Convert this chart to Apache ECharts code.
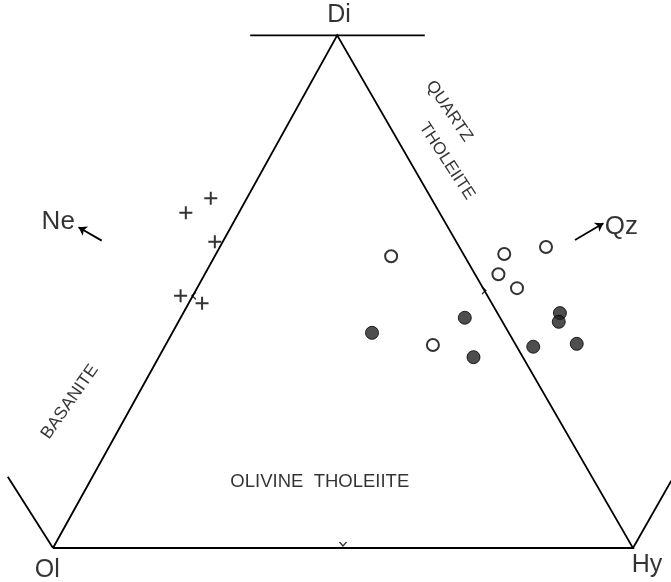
<!DOCTYPE html>
<html>
<head>
<meta charset="utf-8">
<script src="https://cdn.jsdelivr.net/npm/echarts@6/dist/echarts.min.js"></script>
<style>
  html, body { margin: 0; padding: 0; background: #fff; }
  #chart { width: 671px; height: 582px; }
</style>
</head>
<body>
<div id="chart"></div>
<script>
// units: base of the triangle Ol-Hy runs 0..100
const corners = [[0, 0], [49, 88.4], [100, 0], [0, 0]];
const diBar = [[34, 88.4], [64.1, 88.4]];
const neSide = [[0, 0], [-7.8, 12.3]];
const qzSide = [[100, 0], [106.6, 11.6]];
const arrows = [
  [[8.4, 53.0], [4.4, 55.3]],   // towards Ne
  [[90.0, 53.1], [94.9, 56.0]]  // towards Qz
];
// small marks at the side midpoints: x, y, rotation
const midTicks = [[24.3, 43.5, -90], [74.3, 44.4, 90], [50, 0.7, 0]];

// basanite (crosses)
const crossPts = [[22.9, 57.8], [27.2, 60.3], [27.9, 52.8], [22.0, 43.5], [25.7, 42.2]];
// open circles
const openPts = [[58.3, 50.3], [77.8, 50.7], [85.0, 51.9], [76.8, 47.2], [80.0, 44.8], [65.5, 35.0]];
// filled circles
const filledPts = [[55.0, 37.1], [71.0, 39.7], [72.5, 32.9], [82.8, 34.7], [87.4, 40.5], [87.2, 39.0], [90.3, 35.2]];

const labels = [
  { name: 'Di', value: [49.3, 91.8], size: 25, rotate: 0 },
  { name: 'Ol', value: [-1.0, -3.8], size: 25, rotate: 0 },
  { name: 'Hy', value: [102.4, -3.0], size: 25, rotate: 0 },
  { name: 'Ne', value: [0.9, 56.3], size: 26, rotate: 0 },
  { name: 'Qz', value: [98.0, 55.3], size: 26, rotate: 0 },
  { name: 'QUARTZ', value: [68.3, 75.3], size: 17, rotate: -56 },
  { name: 'THOLEIITE', value: [67.9, 66.7], size: 17, rotate: -57 },
  { name: 'BASANITE', value: [2.9, 25.2], size: 17.5, rotate: 55 },
  { name: 'OLIVINE  THOLEIITE', value: [46.0, 11.4], size: 18.5, rotate: 0 }
];

const ink = '#000';
const font = 'Liberation Sans';

const chart = echarts.init(document.getElementById('chart'));

chart.setOption({
  backgroundColor: '#fff',
  animation: false,
  grid: { left: 0, right: 0, top: 0, bottom: 0 },
  xAxis: { type: 'value', min: -53 / 5.8, max: 618 / 5.8, show: false },
  yAxis: { type: 'value', min: -34 / 5.8, max: 548 / 5.8, show: false },
  series: [
    {
      type: 'lines',
      coordinateSystem: 'cartesian2d',
      polyline: true,
      silent: true,
      lineStyle: { color: ink, width: 1.8, opacity: 1 },
      data: [corners, diBar, neSide, qzSide].map(c => ({ coords: c }))
    },
    {
      type: 'lines',
      coordinateSystem: 'cartesian2d',
      silent: true,
      symbol: ['none', 'arrow'],
      symbolSize: 8,
      lineStyle: { color: ink, width: 1.8, opacity: 1 },
      data: arrows.map(c => ({ coords: c }))
    },
    {
      type: 'scatter',
      silent: true,
      symbol: 'path://M0,0L5,5L10,0',
      symbolSize: [7, 4],
      itemStyle: { color: 'none', borderColor: ink, borderWidth: 1.2 },
      data: midTicks.map(t => ({ value: [t[0], t[1]], symbolRotate: t[2] }))
    },
    {
      type: 'scatter',
      silent: true,
      symbol: 'path://M5.5,0h2v13h-2z M0,5.5h13v2h-13z',
      symbolSize: 13,
      itemStyle: { color: ink },
      data: crossPts
    },
    {
      type: 'scatter',
      silent: true,
      symbol: 'circle',
      symbolSize: 12,
      itemStyle: { color: '#fff', borderColor: ink, borderWidth: 2 },
      data: openPts
    },
    {
      type: 'scatter',
      silent: true,
      symbol: 'circle',
      symbolSize: 13,
      itemStyle: { color: '#222', borderColor: ink, borderWidth: 1 },
      data: filledPts
    },
    {
      type: 'scatter',
      silent: true,
      symbolSize: 0,
      label: {
        show: true,
        position: 'inside',
        formatter: '{b}',
        color: ink,
        fontFamily: font
      },
      data: labels.map(l => ({
        name: l.name,
        value: l.value,
        label: { fontSize: l.size, rotate: l.rotate }
      }))
    }
  ]
});
</script>
</body>
</html>
